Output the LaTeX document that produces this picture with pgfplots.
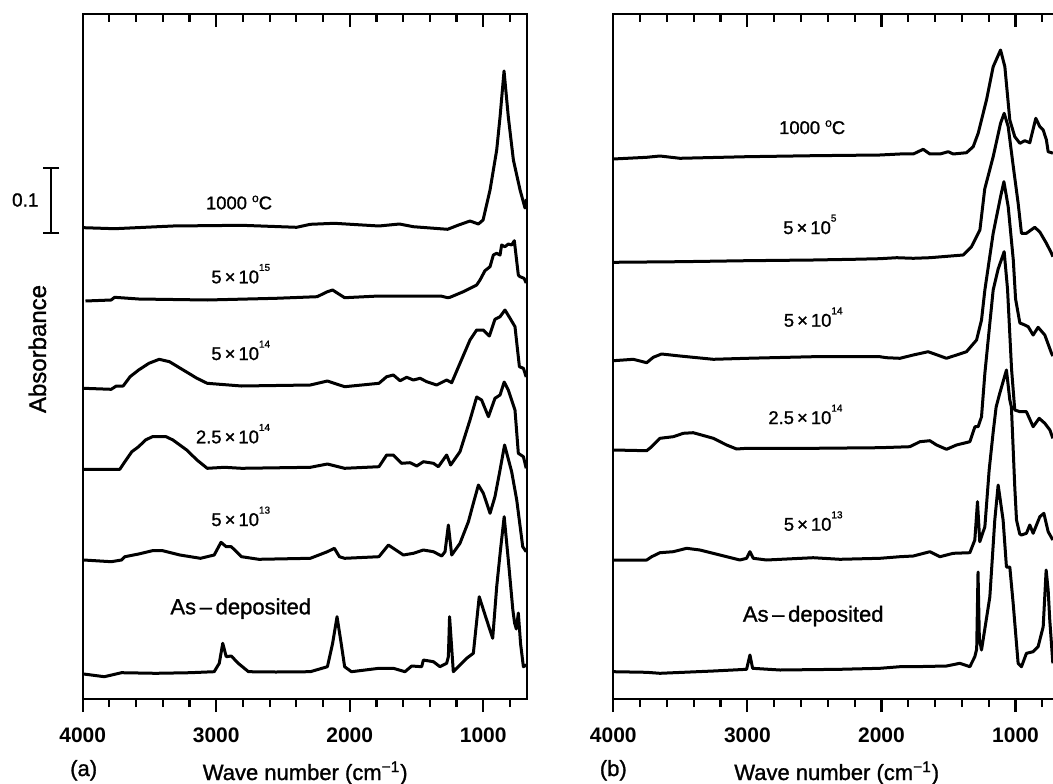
\documentclass[border=0pt]{standalone}
\usepackage{fontspec}
\setmainfont{Liberation Sans}
\newfontfamily\med{Liberation Sans}[FakeBold=1.2]
\usepackage{pgfplots}
\pgfplotsset{compat=1.18}

% 1 px of the reference = 0.5pt; y values are absorbance in units of 1/644 (0.1 = 64.4)
\pgfplotsset{
  spec/.style={
    scale only axis, height=342.5pt, ymin=0, ymax=685,
    x dir=reverse, ytick=\empty,
    xtick={1000,2000,3000,4000},
    xticklabels={1000,2000,3000,4000},
    minor xtick={800,1200,1400,1600,1800,2200,2400,2600,2800,3200,3400,3600,3800},
    major tick length=6.5pt, minor tick length=4pt,
    axis line style={line width=1.1pt},
    every tick/.style={black, line width=1.1pt},
    xticklabel style={font=\fontsize{10.5}{12}\selectfont\bfseries, yshift=-4.6pt},
    every axis plot post/.append style={black, solid, line width=1.5pt, line join=round, mark=none},
    clip=false,
  },
  toptick/.style={spec, xtick pos=right, tick align=inside, xticklabels={}},
}
\tikzset{
  lbl/.style={font=\med\fontsize{9.2}{11}\selectfont, anchor=base},
  big/.style={font=\med\fontsize{11}{13}\selectfont, anchor=base},
}
\newcommand{\sps}[1]{\raisebox{6.2pt}{\fontsize{5}{6}\selectfont #1}}
\newcommand{\dg}{\raisebox{3.6pt}{\fontsize{6}{7}\selectfont o}}

\begin{document}
\begin{tikzpicture}

% ---------------- panel (a)
\begin{axis}[spec, at={(41.35pt,42pt)}, anchor=south west, width=221.95pt,
  xmin=675, xmax=4000, xtick pos=left, tick align=outside]
\addplot coordinates {(3992,471.3) (3761,470.3) (3324,473) (2810,473.7) (2398,471.7) (2295,474.7) (2115,475.7) (1781,473) (1627,475) (1524,472.3) (1267,469.7) (1190,473.7) (1099,478) (1036,475) (1001,479) (949,509) (899,549) (874,582) (844,628) (812,582) (774,539) (724,509) (687,491) (676,500)};
\addplot coordinates {(3979,398) (3787,399) (3761,401.7) (3581,400) (3067,399) (2553,400.7) (2244,402.3) (2167,407.3) (2128,409) (2090,405.7) (2038,401.3) (1781,403) (1524,403) (1318,403) (1267,401.3) (1249,401.7) (1149,407.3) (1049,414) (1024,419) (987,428.3) (949,432.3) (924,444) (899,445.7) (874,444) (862,454) (837,452.3) (812,455) (787,454) (767,458.3) (737,424) (724,422.3) (694,420.7) (678,416)};
\addplot coordinates {(3992,310.7) (3787,309.7) (3748,313) (3697,313) (3645,322.3) (3581,329) (3504,335.7) (3427,339.7) (3350,337.3) (3247,329) (3144,320.7) (3067,315.7) (2810,313) (2295,314) (2167,318) (2038,312.3) (1781,315.7) (1723,322.3) (1673,324) (1623,318.3) (1573,321.7) (1523,319) (1473,320.7) (1423,317.3) (1349,314) (1274,319) (1236,316.3) (1174,335.7) (1099,359) (1049,369) (999,369) (954,363) (912,379.7) (874,382.3) (837,389) (799,380.7) (762,372.3) (729,332.3) (699,330.7) (678,322)};
\addplot coordinates {(3992,229.7) (3722,229.7) (3684,237.3) (3632,247.3) (3581,252.3) (3530,259) (3478,262.3) (3375,262.3) (3324,259) (3221,249) (3144,239) (3067,230.7) (2938,231.7) (2810,230.7) (2295,231.7) (2167,235) (2038,230.7) (1781,232.3) (1723,244) (1673,244) (1611,235.7) (1548,236.3) (1498,233) (1448,237.3) (1373,235.7) (1336,232.3) (1274,244) (1244,234) (1174,247.3) (1099,279) (1049,302) (1012,299) (961,282.3) (912,300.7) (874,304) (843,317) (812,309) (762,289) (737,245.7) (699,242.3) (678,230.7)};
\addplot coordinates {(3992,139) (3787,137.3) (3709,139) (3684,142.3) (3581,145) (3478,148.3) (3401,148.3) (3272,144) (3118,140.7) (3015,144) (2964,156.7) (2925,152.3) (2887,152.3) (2810,142.3) (2681,139.7) (2295,140.7) (2167,147.3) (2115,150.7) (2077,142.3) (2038,140.7) (1781,142.3) (1710,154) (1673,150.7) (1598,144) (1523,145.7) (1448,149) (1373,147.3) (1311,143) (1286,147.3) (1261,174) (1236,144) (1174,155.7) (1111,177.3) (1074,195.7) (1036,214) (999,205.7) (949,185.7) (912,202.3) (874,229) (840,254) (787,227.3) (749,199) (704,152.3) (678,147.3)};
\addplot coordinates {(3992,25) (3838,22.3) (3709,26.3) (3452,25.7) (3195,26.3) (3015,27.3) (2977,35.7) (2951,55.7) (2925,42.3) (2887,43) (2835,35.7) (2758,27.3) (2553,27) (2295,27.3) (2167,32.3) (2128,55.7) (2095,82.3) (2064,55.7) (2038,32.3) (1987,27.3) (1781,30.7) (1673,30.7) (1586,27.3) (1536,33) (1461,32.3) (1448,39) (1373,37.3) (1324,32.3) (1274,35.7) (1261,42.3) (1252,82.3) (1224,27.3) (1124,40.7) (1074,45.7) (1030,102.3) (974,79) (929,60.7) (899,112.3) (870,150) (843,182.3) (812,139) (778,89) (765,76) (752,70) (737,86) (720,55) (699,32.3) (676,34)};
% scale bar
\draw[line width=1.1pt] (axis cs:4237,466.3) -- (axis cs:4237,530.7)
  (axis cs:4175,530.7) -- (axis cs:4299,530.7) (axis cs:4175,466.3) -- (axis cs:4299,466.3);
\node[font=\med\fontsize{9.5}{11}\selectfont] at (axis cs:4430,499) {0.1};
\node[lbl] at (axis cs:2829,489.7) {1000 \dg C};
\node[lbl] at (axis cs:2816,415.7) {5\,×\,10\sps{15}};
\node[lbl] at (axis cs:2816,339) {5\,×\,10\sps{14}};
\node[lbl] at (axis cs:2874,255.7) {2.5\,×\,10\sps{14}};
\node[lbl] at (axis cs:2816,173) {5\,×\,10\sps{13}};
\node[big] at (axis cs:2816,84.7) {As\,–\,deposited};
\end{axis}
\begin{axis}[toptick, at={(41.35pt,42pt)}, anchor=south west, width=221.95pt, xmin=675, xmax=4000]
\end{axis}

% ---------------- panel (b)
\begin{axis}[spec, at={(306.65pt,42pt)}, anchor=south west, width=224.6pt,
  xmin=650, xmax=4000, xtick pos=left, tick align=outside]
\addplot coordinates {(4000,540) (3751,541.7) (3652,543) (3503,540.7) (3006,542.3) (2509,543.3) (2012,544) (1863,545) (1763,545) (1689,549.7) (1639,545) (1564,545) (1502,547.3) (1465,545) (1366,546.3) (1316,552.3) (1279,565.7) (1217,599) (1167,632.3) (1112,649) (1080,632.3) (1043,579) (1006,562.3) (968,555.7) (931,558.3) (894,556.3) (849,580.7) (819,572.3) (794,569) (770,559) (757,547.3) (732,546.3) (722,545.7)};
\addplot coordinates {(4000,436.7) (3503,437.3) (3006,438.3) (2509,439) (2210,439.7) (2012,440.3) (1887,441.3) (1763,440.7) (1639,441.3) (1391,444) (1329,452.3) (1266,469) (1230,510) (1167,542.3) (1112,575.7) (1085,585.7) (1055,572.3) (1017,532.3) (981,496) (956,465.7) (919,465.7) (857,471.7) (819,467) (770,455.7) (732,445.7) (722,442.3)};
\addplot coordinates {(4000,338.3) (3851,339.7) (3751,336.3) (3702,341.7) (3640,345) (3503,343) (3254,339.7) (3006,340.7) (2509,342.3) (2012,342.3) (1963,341.3) (1863,340.7) (1763,344) (1652,347.3) (1515,340.7) (1366,347.3) (1291,359) (1254,379) (1229,409) (1167,465.7) (1112,502.3) (1087,517.3) (1055,492.3) (1017,439) (1000,400) (968,376) (931,374) (906,372.3) (869,364) (832,371.7) (782,364) (732,345.7) (722,343)};
\addplot coordinates {(4000,249) (3751,248.3) (3714,252.3) (3652,260.7) (3553,262.3) (3478,265.7) (3404,266.3) (3254,260.7) (3155,254) (3080,250) (3006,250.7) (2509,250.7) (2012,251.3) (1788,252.3) (1713,257.3) (1639,258.3) (1589,254) (1515,249.7) (1441,254) (1341,257.3) (1303,272.3) (1279,272.3) (1254,282.3) (1229,325.7) (1192,375.7) (1167,409) (1130,430) (1085,447.3) (1060,410) (1030,330) (1006,289) (968,287.3) (919,287.3) (869,272.3) (824,280.7) (782,275.7) (744,269) (722,260.7)};
\addplot coordinates {(4000,139) (3751,139) (3714,142.3) (3652,146.3) (3553,147.3) (3453,150.7) (3354,149) (3205,144) (3056,139) (3006,140.7) (2981,147.3) (2956,140.7) (2857,139) (2509,141.3) (2310,139.7) (2012,140.7) (1863,142.3) (1763,143) (1639,147.3) (1564,142.3) (1465,145.7) (1341,146.3) (1304,159) (1284,197.3) (1267,157.3) (1229,172.3) (1197,229) (1167,267) (1145,292) (1118,305.7) (1068,329) (1043,299) (1031,292) (1006,212) (993,179) (969,165) (956,164) (919,165.7) (894,174) (869,165.7) (819,182.3) (789,185.7) (757,167.3) (722,159)};
\addplot coordinates {(4000,27.3) (3751,26.7) (3652,25.7) (3254,28) (3006,29.7) (2981,44) (2961,30.7) (2757,29) (2310,29.7) (2012,30.7) (1863,32.3) (1763,32.3) (1515,33) (1416,35.7) (1341,32.3) (1304,42.3) (1290,50) (1280,127) (1270,60) (1254,49) (1192,102) (1155,179) (1130,214) (1093,179) (1068,132) (1043,132) (1018,95.7) (981,35.7) (956,32.3) (919,45.7) (869,47.3) (832,52.3) (794,72.3) (772,129) (757,109) (745,79) (722,35.7)};
\node[lbl] at (axis cs:2517,565) {1000 \dg C};
\node[lbl] at (axis cs:2534,465) {5\,×\,10\sps{5}};
\node[lbl] at (axis cs:2509,372.3) {5\,×\,10\sps{14}};
\node[lbl] at (axis cs:2567,275) {2.5\,×\,10\sps{14}};
\node[lbl] at (axis cs:2509,168.3) {5\,×\,10\sps{13}};
\node[big] at (axis cs:2509,77.3) {As\,–\,deposited};
\end{axis}
\begin{axis}[toptick, at={(306.65pt,42pt)}, anchor=south west, width=224.6pt, xmin=650, xmax=4000]
\end{axis}

% ---------------- texts outside the axes
\node[font=\med\fontsize{12}{14}\selectfont, rotate=90] at (18.7pt,217pt) {Absorbance};
\node[big] at (41.85pt,3.5pt) {(a)};
\node[big] at (152.6pt,1.5pt) {Wave number (cm\textsuperscript{−1})};
\node[big] at (306.65pt,3.5pt) {(b)};
\node[big] at (418.35pt,1.5pt) {Wave number (cm\textsuperscript{−1})};

\pgfresetboundingbox
\path[use as bounding box] (0,0) rectangle (526.5pt,391.5pt);
\end{tikzpicture}
\end{document}
